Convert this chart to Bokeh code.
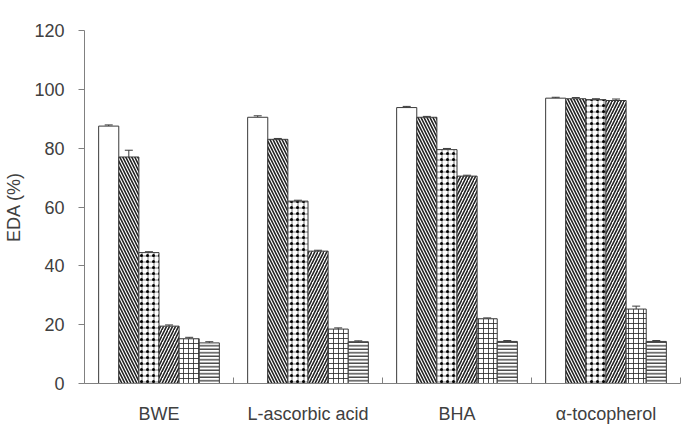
import numpy as np
from bokeh.plotting import figure
from bokeh.models import ColumnDataSource, FixedTicker, Range1d, Whisker, TeeHead
from bokeh.embed import file_html
from bokeh.resources import INLINE

# Samples on the x axis
categories = ["BWE", "L-ascorbic acid", "BHA", "α-tocopherol"]

# EDA (%) for each of the six concentrations, one value per sample
conc_1 = [87.5, 90.5, 93.8, 97.0]
conc_2 = [77.0, 83.0, 90.5, 96.8]
conc_3 = [44.5, 62.0, 79.5, 96.5]
conc_4 = [19.5, 45.0, 70.5, 96.2]
conc_5 = [15.2, 18.5, 22.0, 25.3]
conc_6 = [13.8, 14.2, 14.3, 14.3]

# Standard deviations (upper error bars)
err_1 = [0.4, 0.5, 0.4, 0.3]
err_2 = [2.3, 0.3, 0.3, 0.4]
err_3 = [0.3, 0.3, 0.4, 0.3]
err_4 = [0.4, 0.3, 0.3, 0.5]
err_5 = [0.5, 0.4, 0.3, 1.0]
err_6 = [0.4, 0.3, 0.3, 0.3]

y_ticks = [0, 20, 40, 60, 80, 100, 120]

series = [conc_1, conc_2, conc_3, conc_4, conc_5, conc_6]
errors = [err_1, err_2, err_3, err_4, err_5, err_6]

# hatch styles for the six bars in every group
styles = [
    dict(hatch_pattern=" "),
    dict(hatch_pattern="\\", hatch_scale=6, hatch_weight=1.6),
    dict(hatch_pattern="+", hatch_scale=6, hatch_weight=1.0),
    dict(hatch_pattern="/", hatch_scale=6, hatch_weight=1.6),
    dict(hatch_pattern="+", hatch_scale=5, hatch_weight=0.8),
    dict(hatch_pattern="-", hatch_scale=3.5, hatch_weight=1.2),
]

TEXT = "#404040"
AXIS = "#808080"
OUTLINE = "#3a3a3a"
FONT = "Liberation Sans"
FONT_SIZE = "18px"

p = figure(width=695, height=429, output_backend="svg", toolbar_location=None,
           x_range=Range1d(0, 4), y_range=Range1d(0, 120),
           min_border_left=84, min_border_right=15, min_border_top=30,
           min_border_bottom=46)
p.outline_line_color = None
p.xgrid.visible = False
p.ygrid.visible = False
p.background_fill_color = "white"
p.border_fill_color = "white"

bar_w = 0.135
n = len(series)
for j, (vals, errs, st) in enumerate(zip(series, errors, styles)):
    xs = [i + 0.5 + (j - (n - 1) / 2) * bar_w for i in range(len(categories))]
    src = ColumnDataSource(dict(x=xs, top=vals,
                                upper=[v + e for v, e in zip(vals, errs)]))
    if j == 2:
        # checker of dots over a fine grid
        p.vbar(x="x", top="top", width=bar_w, source=src, fill_color="white",
               line_color=None, hatch_color="#777777", **st)
        p.vbar(x="x", top="top", width=bar_w, source=src, fill_color=None,
               line_color=OUTLINE, line_width=1, hatch_pattern=".",
               hatch_scale=6, hatch_weight=1, hatch_color="black")
    else:
        p.vbar(x="x", top="top", width=bar_w, source=src, fill_color="white",
               line_color=OUTLINE, line_width=1, hatch_color="#222222", **st)
    w = Whisker(base="x", lower="top", upper="upper", source=src,
                line_color=OUTLINE, line_width=1, lower_head=None,
                upper_head=TeeHead(size=8, line_color=OUTLINE, line_width=1))
    p.add_layout(w)

# x axis: labels under each group, small ticks between groups
xa = p.xaxis[0]
xa.ticker = FixedTicker(ticks=[i + 0.5 for i in range(len(categories))],
                        minor_ticks=list(range(len(categories) + 1)))
xa.major_label_overrides = {i + 0.5: c for i, c in enumerate(categories)}
xa.major_tick_in = 0
xa.major_tick_out = 0
xa.minor_tick_in = 6
xa.minor_tick_out = 0
xa.minor_tick_line_color = AXIS
xa.axis_line_color = AXIS
xa.major_label_standoff = 20
xa.major_label_text_font = FONT
xa.major_label_text_font_size = FONT_SIZE
xa.major_label_text_color = TEXT

ya = p.yaxis[0]
ya.ticker = FixedTicker(ticks=y_ticks, minor_ticks=[])
ya.major_tick_in = 0
ya.major_tick_out = 6
ya.major_tick_line_color = AXIS
ya.axis_line_color = AXIS
ya.major_label_standoff = 14
ya.major_label_text_font = FONT
ya.major_label_text_font_size = FONT_SIZE
ya.major_label_text_color = TEXT
ya.axis_label = "EDA (%)"
ya.axis_label_text_font = FONT
ya.axis_label_text_font_size = FONT_SIZE
ya.axis_label_text_font_style = "normal"
ya.axis_label_text_color = TEXT
ya.axis_label_standoff = 7

open("out.html", "w").write(file_html(p, INLINE))
